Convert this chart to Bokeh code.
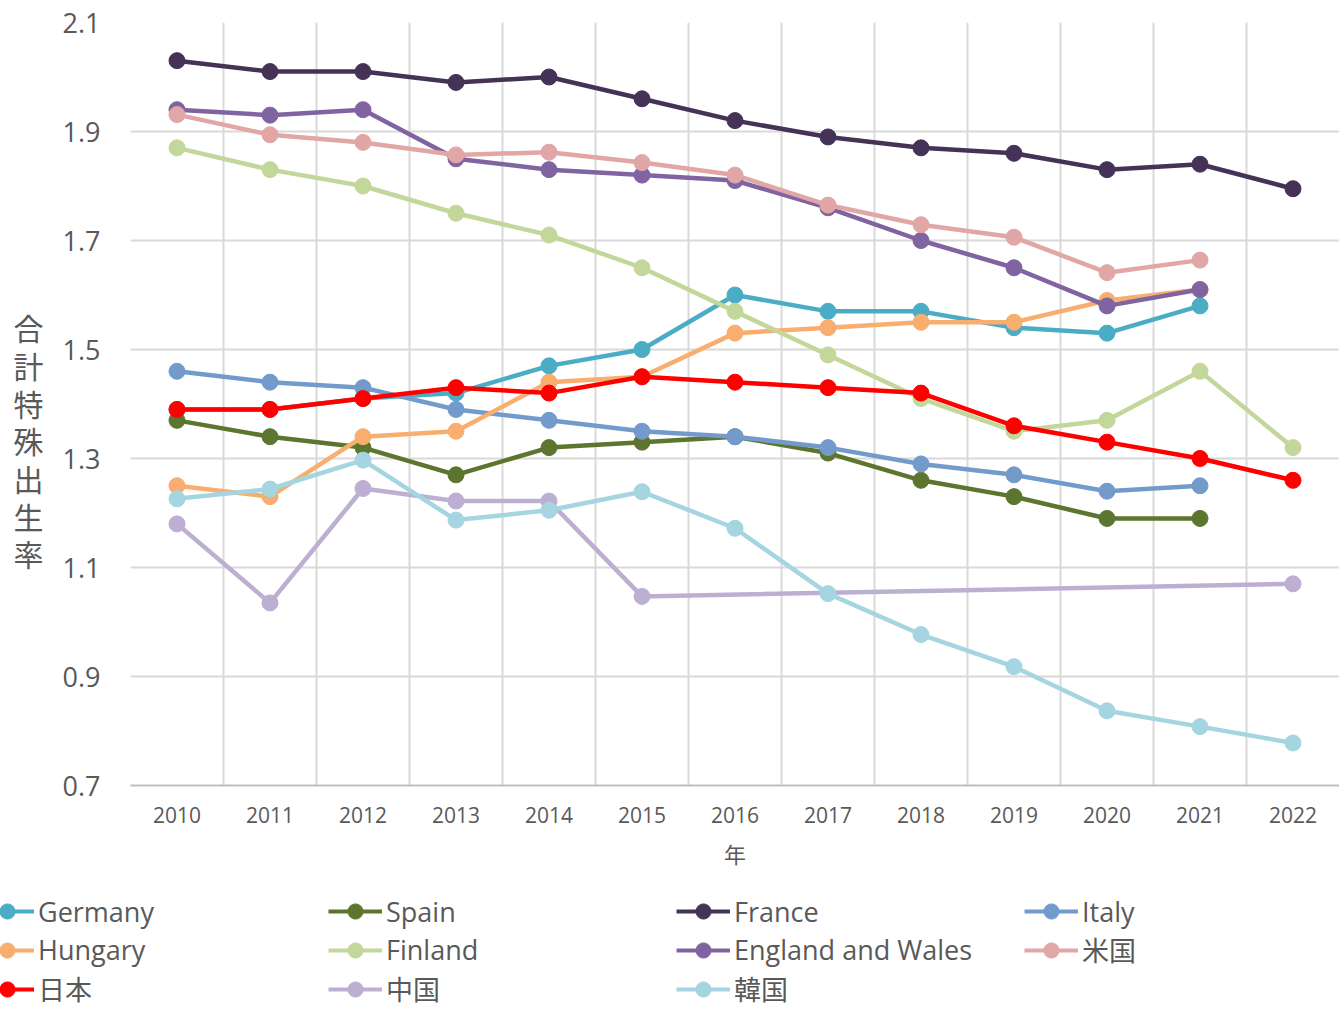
from bokeh.plotting import figure
from bokeh.models import FixedTicker, Legend, LegendItem
from bokeh.layouts import column, row
from bokeh.embed import file_html
from bokeh.resources import INLINE

years = [2010, 2011, 2012, 2013, 2014, 2015, 2016, 2017, 2018, 2019, 2020, 2021, 2022]
year_labels = [str(y) for y in years]
y_ticks = [0.7, 0.9, 1.1, 1.3, 1.5, 1.7, 1.9, 2.1]
y_tick_labels = ["0.7", "0.9", "1.1", "1.3", "1.5", "1.7", "1.9", "2.1"]

germany = [1.39, 1.39, 1.41, 1.42, 1.47, 1.50, 1.60, 1.57, 1.57, 1.54, 1.53, 1.58, None]
spain = [1.37, 1.34, 1.32, 1.27, 1.32, 1.33, 1.34, 1.31, 1.26, 1.23, 1.19, 1.19, None]
france = [2.03, 2.01, 2.01, 1.99, 2.00, 1.96, 1.92, 1.89, 1.87, 1.86, 1.83, 1.84, 1.795]
italy = [1.46, 1.44, 1.43, 1.39, 1.37, 1.35, 1.34, 1.32, 1.29, 1.27, 1.24, 1.25, None]
hungary = [1.25, 1.23, 1.34, 1.35, 1.44, 1.45, 1.53, 1.54, 1.55, 1.55, 1.59, 1.61, None]
finland = [1.87, 1.83, 1.80, 1.75, 1.71, 1.65, 1.57, 1.49, 1.41, 1.35, 1.37, 1.46, 1.32]
england_wales = [1.94, 1.93, 1.94, 1.85, 1.83, 1.82, 1.81, 1.76, 1.70, 1.65, 1.58, 1.61, None]
usa = [1.931, 1.894, 1.880, 1.857, 1.862, 1.843, 1.820, 1.765, 1.729, 1.706, 1.641, 1.664, None]
japan = [1.39, 1.39, 1.41, 1.43, 1.42, 1.45, 1.44, 1.43, 1.42, 1.36, 1.33, 1.30, 1.26]
china = [1.18, 1.035, 1.245, 1.222, 1.222, 1.047, None, None, None, None, None, None, 1.07]
korea = [1.226, 1.244, 1.297, 1.187, 1.205, 1.239, 1.172, 1.052, 0.977, 0.918, 0.837, 0.808, 0.778]

series = [
    ("Germany", germany, "#4bacc6"),
    ("Spain", spain, "#5c752f"),
    ("France", france, "#443356"),
    ("Italy", italy, "#729aca"),
    ("Hungary", hungary, "#f8ae6e"),
    ("Finland", finland, "#c4d79b"),
    ("England and Wales", england_wales, "#8064a2"),
    ("米国", usa, "#e0a7a6"),
    ("日本", japan, "#ff0000"),
    ("中国", china, "#bcafd2"),
    ("韓国", korea, "#a5d5e0"),
]

FONT = "Open Sans, Noto Sans CJK JP"
GREY = "#595959"

p = figure(width=1339, height=880, output_backend="svg", toolbar_location=None,
           x_range=(2009.5, 2022.5), y_range=(0.7, 2.1),
           min_border_left=130, min_border_right=0, min_border_top=22, min_border_bottom=95)
p.outline_line_color = None

# grid
p.xgrid.ticker = FixedTicker(ticks=[y - 0.5 for y in years])
p.xgrid.grid_line_color = "#d9d9d9"
p.xgrid.grid_line_width = 2
p.ygrid.ticker = FixedTicker(ticks=y_ticks)
p.ygrid.grid_line_color = "#d9d9d9"
p.ygrid.grid_line_width = 2

# axes
p.xaxis.ticker = FixedTicker(ticks=years)
p.xaxis.major_label_overrides = {y: l for y, l in zip(years, year_labels)}
p.xaxis.axis_line_color = "#bfbfbf"
p.xaxis.axis_line_width = 2
p.xaxis.major_tick_line_color = None
p.xaxis.minor_tick_line_color = None
p.xaxis.major_tick_out = 0
p.xaxis.major_label_standoff = 21
p.xaxis.major_label_text_font = FONT
p.xaxis.major_label_text_font_size = "21px"
p.xaxis.major_label_text_color = GREY
p.xaxis.axis_label = "年"
p.xaxis.axis_label_text_font = FONT
p.xaxis.axis_label_text_font_size = "22px"
p.xaxis.axis_label_text_font_style = "normal"
p.xaxis.axis_label_text_color = GREY
p.xaxis.axis_label_standoff = 13

p.yaxis.ticker = FixedTicker(ticks=y_ticks)
p.yaxis.major_label_overrides = {t: l for t, l in zip(y_ticks, y_tick_labels)}
p.yaxis.axis_line_color = None
p.yaxis.major_tick_line_color = None
p.yaxis.minor_tick_line_color = None
p.yaxis.major_tick_out = 0
p.yaxis.major_label_standoff = 30
p.yaxis.major_label_text_font = FONT
p.yaxis.major_label_text_font_size = "27px"
p.yaxis.major_label_text_color = GREY
p.yaxis.axis_label = "\n\n合\n計\n特\n殊\n出\n生\n率"
p.yaxis.axis_label_orientation = "horizontal"
p.yaxis.axis_label_text_font = FONT
p.yaxis.axis_label_text_font_size = "30px"
p.yaxis.axis_label_text_font_style = "normal"
p.yaxis.axis_label_text_color = GREY
p.yaxis.axis_label_text_line_height = 0.92
p.yaxis.axis_label_standoff = 16

for name, vals, color in series:
    xs = [x for x, v in zip(years, vals) if v is not None]
    ys = [v for v in vals if v is not None]
    p.line(xs, ys, line_color=color, line_width=4.5)
    p.scatter(xs, ys, size=16, fill_color=color, line_color=color)

# legend in its own strip below the chart
leg = figure(width=1339, height=129, output_backend="svg", toolbar_location=None,
             x_axis_location=None, y_axis_location=None,
             min_border_left=0, min_border_right=0, min_border_top=0, min_border_bottom=0)
leg.outline_line_color = None
leg.xgrid.visible = False
leg.ygrid.visible = False
items = []
for name, vals, color in series:
    xs = [x for x, v in zip(years, vals) if v is not None]
    ys = [v for v in vals if v is not None]
    r1 = leg.line(xs, ys, line_color=color, line_width=4, visible=False)
    r2 = leg.scatter(xs, ys, size=16, fill_color=color, line_color=color, visible=False)
    items.append(LegendItem(label=name, renderers=[r1, r2]))

legend = Legend(items=items, orientation="horizontal", ncols=4,
                location=(-20, 1), padding=0, margin=0, spacing=0,
                glyph_width=54, glyph_height=38, label_height=38, label_width=290,
                label_standoff=4, border_line_color=None, background_fill_alpha=0,
                label_text_font=FONT, label_text_font_size="27px",
                label_text_color=GREY)
leg.add_layout(legend, "center")

open("out.html", "w").write(file_html(column(p, row(leg)), INLINE))
